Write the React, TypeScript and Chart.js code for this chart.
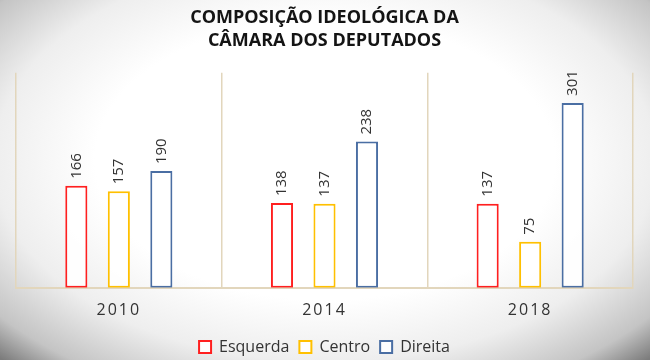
import React, { useEffect, useRef } from "react";
import { Chart, registerables } from "chart.js";

Chart.register(...registerables);

const titleLines = ["COMPOSIÇÃO IDEOLÓGICA DA", "CÂMARA DOS DEPUTADOS"];
const years = ["2010", "2014", "2018"];
const esquerda = [166, 138, 137];
const centro = [157, 137, 75];
const direita = [190, 238, 301];
const seriesNames = ["Esquerda", "Centro", "Direita"];
const seriesColors = ["#ff1f1f", "#ffc000", "#4a6ea3"];

const FONT = "'Open Sans', 'DejaVu Sans', sans-serif";

const vignette = {
  id: "vignette",
  beforeDraw(chart: any) {
    const { ctx, width } = chart;
    ctx.save();
    const cx = width / 2;
    const cy = 160;
    const rx = 460;
    const ry = 280;
    ctx.translate(cx, cy);
    ctx.scale(1, ry / rx);
    const g = ctx.createRadialGradient(0, 0, 0, 0, 0, rx);
    g.addColorStop(0, "#ffffff");
    g.addColorStop(0.5, "#ffffff");
    g.addColorStop(0.72, "#eeeeee");
    g.addColorStop(0.9, "#c4c4c4");
    g.addColorStop(1, "#7c7c7c");
    ctx.fillStyle = g;
    ctx.fillRect(-cx, -rx, width, rx * 2);
    ctx.restore();
  },
};

const legendShift = {
  id: "legendShift",
  afterLayout(chart: any) {
    const l = chart.legend;
    if (l) {
      l.top -= 4;
      l.bottom -= 4;
    }
  },
};

const valueLabels = {
  id: "valueLabels",
  afterDatasetsDraw(chart: any) {
    const { ctx } = chart;
    ctx.save();
    ctx.font = `15px ${FONT}`;
    ctx.fillStyle = "#333333";
    ctx.textAlign = "left";
    ctx.textBaseline = "middle";
    chart.data.datasets.forEach((ds: any, i: number) => {
      const meta = chart.getDatasetMeta(i);
      meta.data.forEach((el: any, j: number) => {
        ctx.save();
        ctx.translate(el.x, el.y - 7);
        ctx.rotate(-Math.PI / 2);
        ctx.fillText(String(ds.data[j]), 0, 0);
        ctx.restore();
      });
    });
    ctx.restore();
    // x-axis tick labels (drawn after datasets, ticks.z: 1) are letter-spaced
    ctx.letterSpacing = "2px";
  },
  afterDraw(chart: any) {
    chart.ctx.letterSpacing = "0px";
  },
};

export default function App() {
  const ref = useRef<HTMLCanvasElement | null>(null);
  useEffect(() => {
    if (!ref.current) return;
    const values = [esquerda, centro, direita];
    const chart = new Chart(ref.current, {
      type: "bar",
      data: {
        labels: years,
        datasets: seriesNames.map((name, i) => ({
          label: name,
          data: values[i],
          backgroundColor: "rgba(255,255,255,0.9)",
          borderColor: seriesColors[i],
          borderWidth: 2,
          borderSkipped: false,
          categoryPercentage: 0.62,
          barPercentage: 0.52,
        })),
      },
      options: {
        animation: false,
        responsive: false,
        layout: { padding: { left: 16, right: 17, top: 0, bottom: -9 } },
        scales: {
          x: {
            grid: { color: "#e2d6bc", lineWidth: 1.5, drawTicks: false, offset: true },
            border: { color: "#e2d6bc", width: 2 },
            ticks: { z: 1, color: "#333333", font: { family: FONT, size: 16 }, padding: 13 },
          },
          y: { display: false, min: 0, max: 350 },
        },
        plugins: {
          title: {
            display: true,
            text: titleLines,
            color: "#141414",
            font: { family: FONT, size: 18, weight: "bold", lineHeight: 1.3 },
            padding: { top: 6, bottom: 20 },
          },
          legend: {
            position: "bottom",
            labels: {
              color: "#333333",
              font: { family: FONT, size: 16 },
              boxWidth: 12,
              boxHeight: 12,
              padding: 10,
            },
          },
          tooltip: { enabled: false },
        },
      },
      plugins: [vignette, legendShift, valueLabels],
    });
    return () => chart.destroy();
  }, []);
  return (
    <div style={{ position: "absolute", left: 0, top: 0, width: 650, height: 360 }}>
      <canvas ref={ref} width={650} height={360} />
    </div>
  );
}
